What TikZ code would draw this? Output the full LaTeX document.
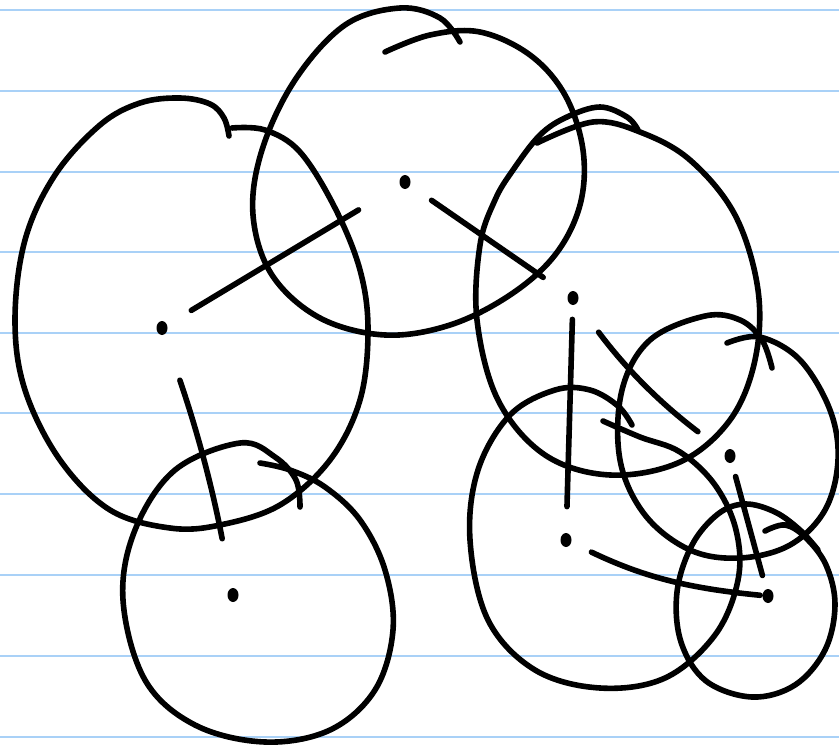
\documentclass[tikz,border=0pt]{standalone}
\usepackage{xcolor}
\usepackage{tikz}
\usetikzlibrary{shapes.geometric}
\definecolor{ruleblue}{HTML}{A9D1F7}
\definecolor{ink}{HTML}{000000}

\begin{document}
\begin{tikzpicture}[x=0.5pt, y=-0.5pt,
  blob/.style={draw=ink, line width=2.8pt, line cap=round, line join=round},
  vertex/.style={ellipse, fill=ink, inner sep=0pt, minimum width=5.5pt, minimum height=7pt},
  link/.style={draw=ink, line width=2.8pt, line cap=round}]
\useasboundingbox (0,0) rectangle (839,749);
\fill[white] (0,0) rectangle (839,749);
% ruled paper
\foreach \y in {10,91,172,252,333,413,494,575,656,737}
  \draw[ruleblue, line width=0.7pt] (0,\y) -- (839,\y);

% hand drawn regions
\draw[blob] plot[smooth, tension=0.6] coordinates {(232,128) (265,130) (300,152) (335,208) (360,270) (368,330) (360,400) (330,460) (280,505) (220,525) (170,528) (110,510) (60,460) (25,390) (15,320) (25,240) (55,175) (100,125) (140,103) (180,98) (210,104) (224,118) (229,136)};
\draw[blob] plot[smooth, tension=0.6] coordinates {(385,52) (430,35) (480,32) (530,55) (565,95) (583,150) (580,205) (555,255) (510,295) (450,325) (385,335) (320,318) (272,275) (253,215) (262,150) (295,80) (345,25) (400,8) (440,18) (460,42)};
\draw[blob] plot[smooth, tension=0.6] coordinates {(537,143) (593,122) (640,132) (690,160) (735,215) (758,290) (755,360) (730,420) (680,462) (610,475) (545,455) (498,400) (477,320) (480,245) (495,200) (513,170) (540,135) (567,117) (600,107) (627,117) (638,130)};
\draw[blob] plot[smooth, tension=0.6] coordinates {(260,463) (290,470) (325,487) (360,520) (385,570) (393,630) (375,690) (330,730) (265,742) (195,725) (145,680) (123,600) (135,530) (175,470) (240,443) (275,457) (296,480) (300,507)};
\draw[blob] plot[smooth, tension=0.6] coordinates {(603,421) (640,437) (680,452) (715,485) (736,530) (738,580) (715,635) (665,678) (600,688) (535,670) (488,620) (470,540) (478,470) (510,415) (555,390) (590,390) (618,406) (632,425)};
\draw[blob] plot[smooth, tension=0.6] coordinates {(727,343) (760,337) (800,360) (830,410) (838,460) (825,510) (790,545) (740,558) (690,550) (645,515) (620,460) (622,390) (650,340) (705,316) (740,320) (762,340) (772,368)};
\draw[blob] plot[smooth, tension=0.6] coordinates {(765,531) (785,525) (805,537) (826,565) (835,605) (825,650) (795,685) (752,697) (706,681) (681,642) (677,592) (692,545) (718,514) (745,504) (775,512) (800,530) (818,550)};

% vertices
\node[vertex] (a) at (162,328) {};
\node[vertex] (b) at (405,182) {};
\node[vertex] (c) at (573,298) {};
\node[vertex] (d) at (233,595) {};
\node[vertex] (e) at (566,540) {};
\node[vertex] (f) at (730,456) {};
\node[vertex] (g) at (768,596) {};

% edges
\draw[link, shorten <=14pt, shorten >=24pt] (a) -- (b);
\draw[link, shorten <=13pt, shorten >=15pt] (b) -- (c);
\draw[link, shorten <=24pt, shorten >=25pt] (a) to[bend left=4] (d);
\draw[link, shorten <=7pt, shorten >=13pt] (c) -- (e);
\draw[link, shorten <=18pt, shorten >=17pt] (c) to[bend right=8] (f);
\draw[link, shorten <=11pt, shorten >=1pt] (e) to[bend right=10] (g);
\draw[link, shorten <=7pt, shorten >=7pt] (f) -- (g);
\end{tikzpicture}
\end{document}
